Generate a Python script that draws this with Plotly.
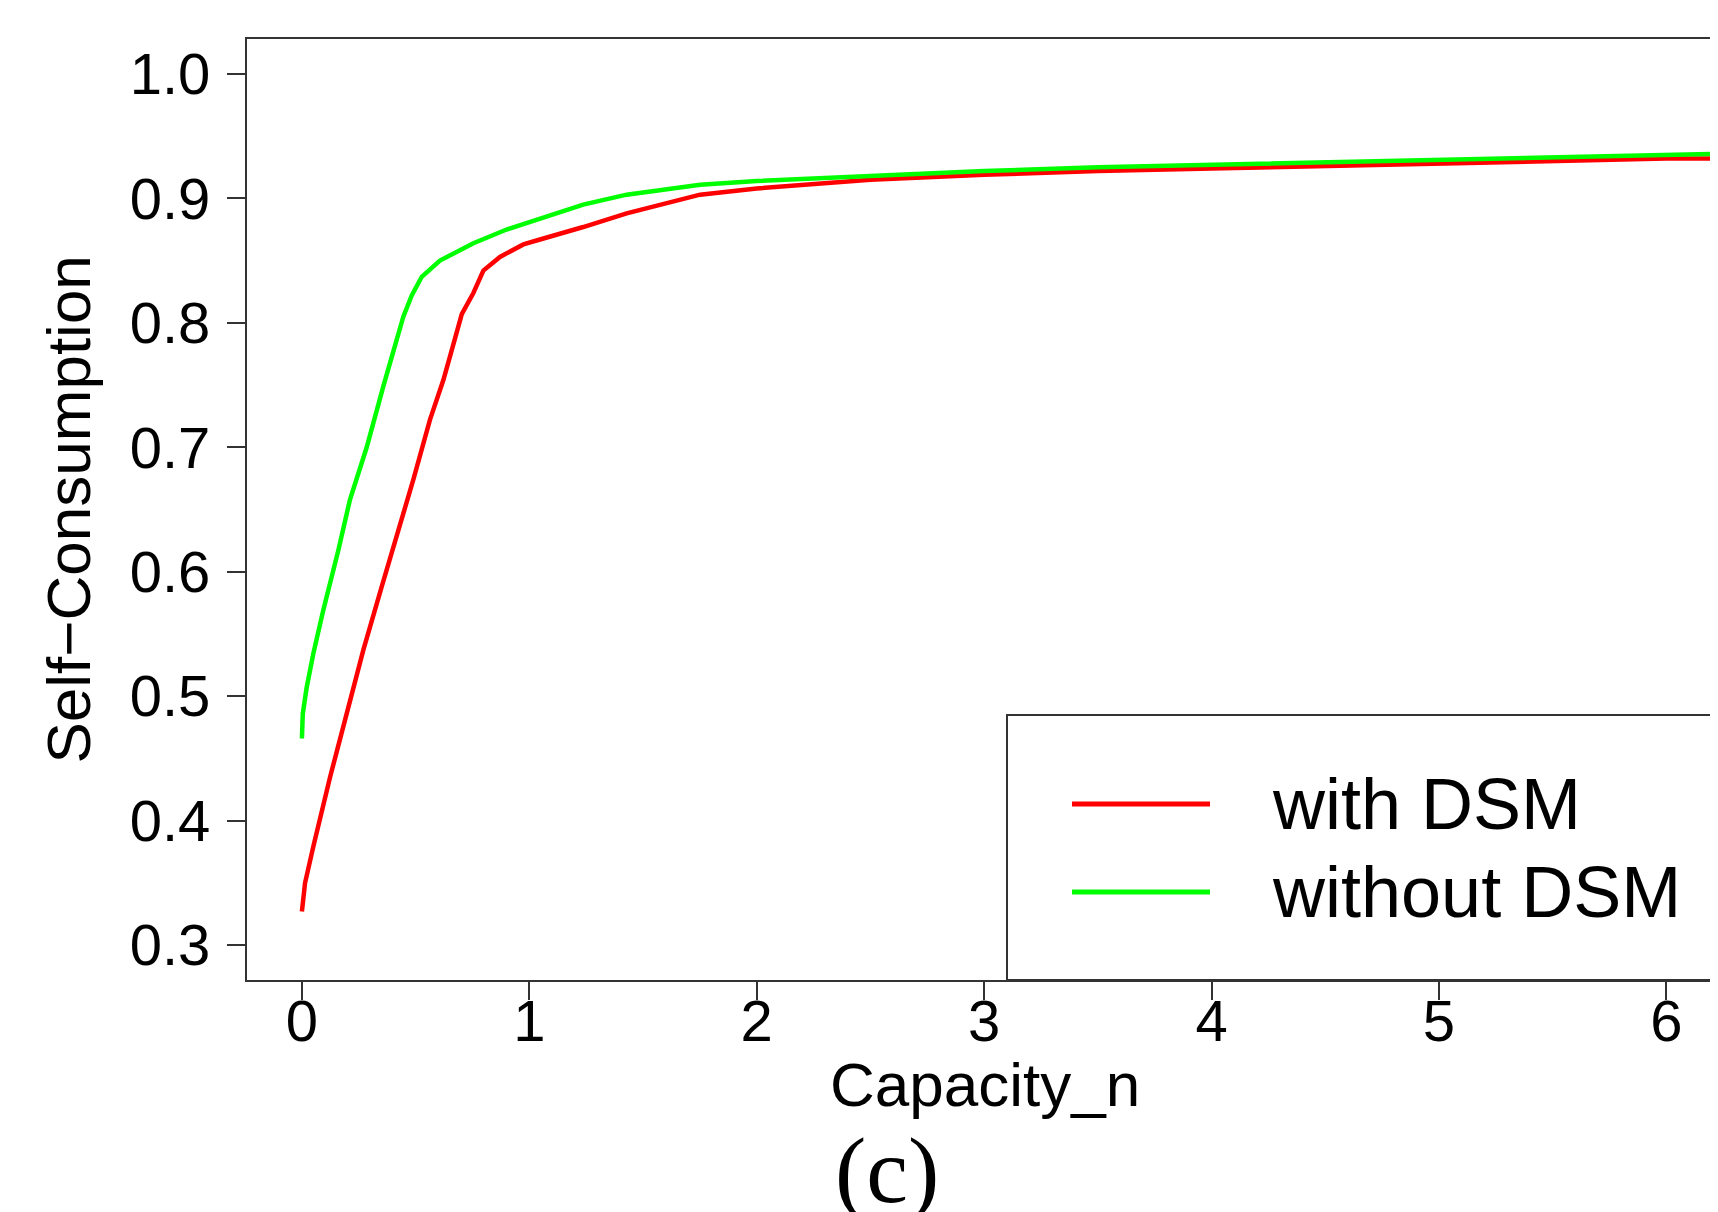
import plotly.graph_objects as go

# Values
capacity_with = [0, 0.014, 0.05, 0.124, 0.197, 0.27, 0.351, 0.417, 0.49, 0.563, 0.622, 0.659,
                 0.703, 0.754, 0.798, 0.871, 0.974, 1.047, 1.237, 1.428, 1.751, 2.0, 2.5, 3.0,
                 3.5, 4.0, 4.5, 5.0, 5.5, 6.0, 6.25]
with_dsm = [0.327, 0.350, 0.379, 0.435, 0.486, 0.537, 0.588, 0.628, 0.674, 0.722, 0.754, 0.778,
            0.807, 0.824, 0.842, 0.853, 0.863, 0.867, 0.877, 0.888, 0.903, 0.908, 0.915, 0.919,
            0.922, 0.924, 0.926, 0.928, 0.930, 0.932, 0.932]

capacity_without = [0, 0.004, 0.021, 0.05, 0.094, 0.124, 0.16, 0.2115, 0.285, 0.358, 0.417,
                    0.446, 0.483, 0.527, 0.607, 0.754, 0.90, 1.047, 1.237, 1.428, 1.751, 2.0,
                    2.5, 3.0, 3.5, 4.0, 4.5, 5.0, 5.5, 6.0, 6.25]
without_dsm = [0.466, 0.486, 0.507, 0.534, 0.569, 0.590, 0.617, 0.658, 0.700, 0.749, 0.786,
               0.805, 0.822, 0.837, 0.850, 0.864, 0.875, 0.884, 0.895, 0.903, 0.911, 0.914,
               0.918, 0.922, 0.925, 0.927, 0.929, 0.931, 0.933, 0.935, 0.936]

x_ticks = [0, 1, 2, 3, 4, 5, 6]
y_ticks = [0.3, 0.4, 0.5, 0.6, 0.7, 0.8, 0.9, 1.0]
y_ticktext = ["0.3", "0.4", "0.5", "0.6", "0.7", "0.8", "0.9", "1.0"]

series_names = ["with DSM", "without DSM"]
series_colors = ["#FF0000", "#00FF00"]

OFF = 8  # default page body margin
W, H = 1718 - OFF, 1212 - OFF
L, R, T, B = 247 - OFF, 0, 39 - OFF, 232
pw = W - L - R
ph = H - T - B

def px_x(p):  # page pixel -> paper x
    return (p - OFF - L) / pw

def px_y(p):  # page pixel -> paper y
    return (H - B - (p - OFF)) / ph

FONT = "Liberation Sans, Arial, sans-serif"
AX = "#333333"

fig = go.Figure()
for name, xs, ys, col in zip(series_names, [capacity_with, capacity_without],
                             [with_dsm, without_dsm], series_colors):
    fig.add_trace(go.Scatter(x=xs, y=ys, mode="lines", name=name,
                             line=dict(color=col, width=4.5), showlegend=False))

fig.update_layout(
    width=W, height=H,
    margin=dict(l=L, r=R, t=T, b=B, pad=0),
    paper_bgcolor="white", plot_bgcolor="white",
    font=dict(family=FONT, color="black"),
    xaxis=dict(range=[-0.2414, 6.227], tickvals=x_ticks, ticks="outside", ticklen=18,
               tickwidth=2, tickcolor=AX, showline=True, linewidth=2, linecolor=AX,
               mirror=True, showgrid=False, zeroline=False,
               tickfont=dict(size=58, family=FONT, color="black"), ticklabelstandoff=-29),
    yaxis=dict(range=[0.2719, 1.0281], tickvals=y_ticks, ticktext=y_ticktext,
               ticks="outside", ticklen=18, tickwidth=2, tickcolor=AX, showline=True,
               linewidth=2, linecolor=AX, mirror=False, showgrid=False, zeroline=False,
               tickfont=dict(size=58, family=FONT, color="black"), ticklabelstandoff=5),
)

shapes = [
    dict(type="rect", xref="paper", yref="paper", x0=px_x(1007), x1=1.03, y0=0, y1=px_y(715),
         line=dict(color=AX, width=2), fillcolor="white", layer="above"),
]
legend_y = [804, 892]
for col, ly in zip(series_colors, legend_y):
    shapes.append(dict(type="line", xref="paper", yref="paper", x0=px_x(1072), x1=px_x(1210),
                       y0=px_y(ly), y1=px_y(ly), line=dict(color=col, width=5), layer="above"))

annotations = [
    dict(text="Self\u2212Consumption", xref="paper", yref="paper", x=px_x(68), y=0.5,
         textangle=-90, showarrow=False, xanchor="center", yanchor="middle",
         font=dict(size=62, family=FONT, color="black")),
    dict(text="Capacity_n", xref="paper", yref="paper", x=px_x(985), y=px_y(1084),
         showarrow=False, xanchor="center", yanchor="middle",
         font=dict(size=62, family=FONT, color="black")),
    dict(text="(c)", xref="paper", yref="paper", x=px_x(887), y=px_y(1170),
         showarrow=False, xanchor="center", yanchor="middle",
         font=dict(size=94, family="Liberation Serif, Times New Roman, serif", color="black")),
]
for name, ly in zip(series_names, legend_y):
    annotations.append(dict(text=name, xref="paper", yref="paper", x=px_x(1270), y=px_y(ly),
                            showarrow=False, xanchor="left", yanchor="middle",
                            font=dict(size=72, family=FONT, color="black")))

fig.update_layout(shapes=shapes, annotations=annotations)
fig.write_html("out.html")
